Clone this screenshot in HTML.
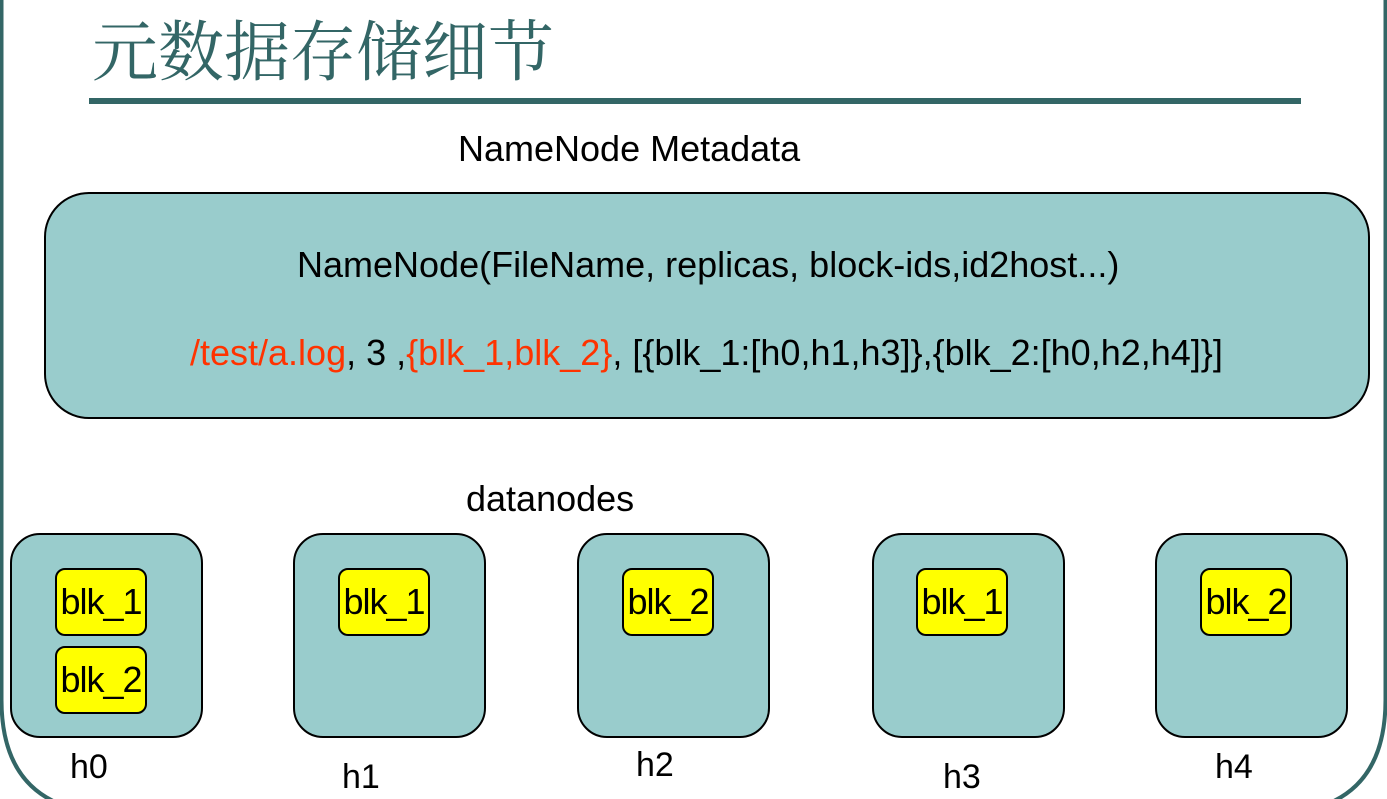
<!DOCTYPE html>
<html><head><meta charset="utf-8"><style>
body{margin:0;width:1387px;height:799px;overflow:hidden;background:#fff;position:relative;font-family:"Liberation Sans",Arial,sans-serif}
.t{position:absolute;white-space:nowrap}
.dn{position:absolute;background:#99cccc;border:2px solid #000;border-radius:30px;box-sizing:border-box;top:533px;width:193px;height:205px}
.y{position:absolute;background:#ffff00;border:2px solid #000;border-radius:10px;box-sizing:border-box;width:92px;height:68px;font-size:36px;line-height:64px;text-align:center;letter-spacing:-1px}
.y span{display:inline-block;margin-left:-10px;margin-right:-10px}
.h{position:absolute;font-size:34px}
</style></head><body>
<svg width="1387" height="799" style="position:absolute;left:0;top:0">
<path d="M1.5 0 V700 Q1.5 799 90 812 M1385.5 0 V700 Q1385.5 799 1297 812" stroke="#336666" stroke-width="4" fill="none"/>
<rect x="89" y="98" width="1212" height="6" fill="#336666"/>
</svg>
<div class="t" style="left:92px;top:10px;font-size:66px;color:#336666;font-family:'Noto Serif CJK SC','WenQuanYi Zen Hei',serif;line-height:74px">元数据存储细节</div>
<div class="t" style="left:458px;top:128px;font-size:36px">NameNode Metadata</div>
<div style="position:absolute;left:44px;top:192px;width:1326px;height:227px;background:#99cccc;border:2px solid #000;border-radius:45px;box-sizing:border-box"></div>
<div class="t" style="left:297px;top:244px;font-size:36px">NameNode(FileName, replicas, block-ids,id2host...)</div>
<div class="t" style="left:190px;top:332px;font-size:36px"><span style="color:#ff3300">/test/a.log</span>, 3 ,<span style="color:#ff3300">{blk_1,blk_2}</span>, [{blk_1:[h0,h1,h3]},{blk_2:[h0,h2,h4]}]</div>
<div class="t" style="left:466px;top:478px;font-size:36px">datanodes</div>
<div class="dn" style="left:10px"></div>
<div class="dn" style="left:293px"></div>
<div class="dn" style="left:577px"></div>
<div class="dn" style="left:872px"></div>
<div class="dn" style="left:1155px"></div>
<div class="y" style="left:55px;top:568px"><span>blk_1</span></div>
<div class="y" style="left:55px;top:646px"><span>blk_2</span></div>
<div class="y" style="left:338px;top:568px"><span>blk_1</span></div>
<div class="y" style="left:622px;top:568px"><span>blk_2</span></div>
<div class="y" style="left:916px;top:568px"><span>blk_1</span></div>
<div class="y" style="left:1200px;top:568px"><span>blk_2</span></div>
<div class="h" style="left:70px;top:748px">h0</div>
<div class="h" style="left:342px;top:758px">h1</div>
<div class="h" style="left:636px;top:746px">h2</div>
<div class="h" style="left:943px;top:758px">h3</div>
<div class="h" style="left:1215px;top:748px">h4</div>
</body></html>
